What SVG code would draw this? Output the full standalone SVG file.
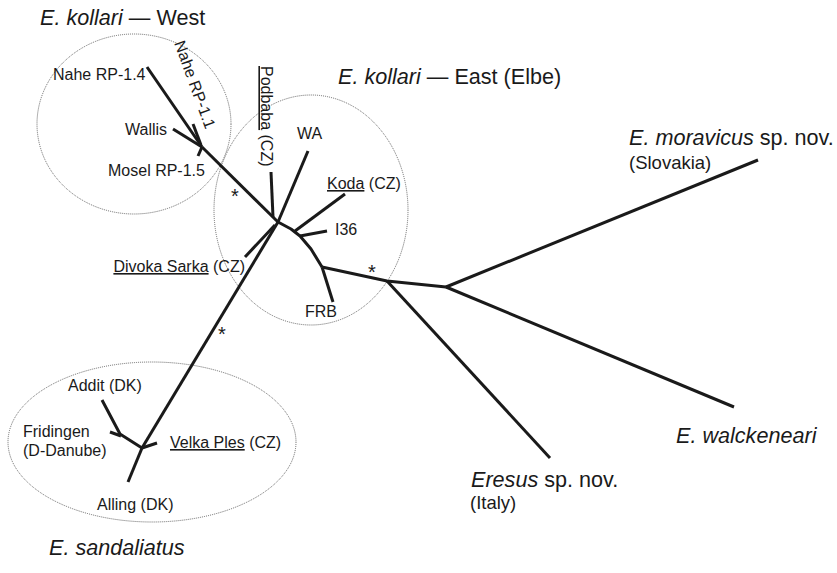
<svg xmlns="http://www.w3.org/2000/svg" width="837" height="573" viewBox="0 0 837 573">
<style>
text{font-family:"Liberation Sans",Arial,sans-serif;fill:#1a1a1a}
.lb{font-size:16px}
.sub{font-size:18.5px}
.tt{font-size:21.6px}
.it{font-style:italic}
.u{text-decoration:underline}
.ast{font-size:20px;text-anchor:middle}
.br{fill:none;stroke:#1a1a1a;stroke-width:3;stroke-linecap:butt;stroke-linejoin:round}
.cl{fill:none;stroke:#666;stroke-width:1;stroke-dasharray:1 1}
</style>
<rect width="837" height="573" fill="#fff"/>
<g id="clusters">
<ellipse class="cl" cx="134" cy="124" rx="97" ry="90"/>
<ellipse class="cl" cx="311" cy="210" rx="97" ry="115"/>
<ellipse class="cl" cx="152" cy="442" rx="144" ry="80"/>
</g>
<g id="connectors">
<path class="br" d="M147,67 L202,147"/>
<path class="br" d="M193,124 L201,145"/>
<path class="br" d="M173,129 L202,147"/>
<path class="br" d="M202,147 L198,156"/>
<path class="br" d="M202,147 L278,222"/>
<path class="br" d="M271,172 L273,217"/>
<path class="br" d="M308,151 L278,222"/>
<path class="br" d="M245,257 L275,225"/>
<path class="br" d="M278,222 L142,448"/>
<path class="br" d="M102,400 L120,434 L142,448"/>
<path class="br" d="M110,432 L121,436"/>
<path class="br" d="M157,443 L142,448"/>
<path class="br" d="M142,448 L128,482"/>
<path class="br" d="M278,222 L291,229 L300,236 L311,249 L322,267"/>
<path class="br" d="M345,194 L295,231"/>
<path class="br" d="M327,231 L300,236"/>
<path class="br" d="M322,267 L333,302"/>
<path class="br" d="M322,267 L387,281 L446,287"/>
<path class="br" d="M387,281 L550,458"/>
<path class="br" d="M446,287 L758,160"/>
<path class="br" d="M446,287 L734,407"/>
</g>
<g id="title-west"><text class="tt" x="40" y="25"><tspan class="it">E. kollari</tspan> — West</text></g>
<g id="title-east"><text class="tt" x="338" y="84"><tspan class="it">E. kollari</tspan> — East (Elbe)</text></g>
<g id="title-sandaliatus"><text class="tt it" x="49" y="555">E. sandaliatus</text></g>
<g id="node-nahe14"><text class="lb" x="53" y="80">Nahe RP-1.4</text></g>
<g id="node-nahe11"><text class="lb" transform="translate(174,43) rotate(70)">Nahe RP-1.1</text></g>
<g id="node-wallis"><text class="lb" x="125" y="135">Wallis</text></g>
<g id="node-mosel"><text class="lb" x="108" y="176">Mosel RP-1.5</text></g>
<g id="node-podbaba"><text class="lb" transform="translate(261,66) rotate(90)"><tspan class="u">Podbaba</tspan> (CZ)</text></g>
<g id="node-wa"><text class="lb" x="297" y="139">WA</text></g>
<g id="node-koda"><text class="lb" x="327" y="189"><tspan class="u">Koda</tspan> (CZ)</text></g>
<g id="node-i36"><text class="lb" x="335" y="235">I36</text></g>
<g id="node-frb"><text class="lb" x="305" y="317">FRB</text></g>
<g id="node-divoka"><text class="lb" x="245" y="272" text-anchor="end"><tspan class="u">Divoka Sarka</tspan> (CZ)</text></g>
<g id="node-addit"><text class="lb" x="68" y="391">Addit (DK)</text></g>
<g id="node-fridingen"><text class="lb" x="23" y="437">Fridingen</text><text class="lb" x="23" y="456">(D-Danube)</text></g>
<g id="node-velka"><text class="lb" x="170" y="448"><tspan class="u">Velka Ples</tspan> (CZ)</text></g>
<g id="node-alling"><text class="lb" x="97" y="510">Alling (DK)</text></g>
<g id="node-moravicus"><text class="tt" x="629" y="145"><tspan class="it">E. moravicus</tspan> sp. nov.</text><text class="sub" x="629" y="169">(Slovakia)</text></g>
<g id="node-walckeneari"><text class="tt it" x="676" y="443">E. walckeneari</text></g>
<g id="node-eresus"><text class="tt" x="471" y="487"><tspan class="it">Eresus</tspan> sp. nov.</text><text class="sub" x="470" y="509">(Italy)</text></g>
<g id="support">
<text class="ast" x="235" y="203">*</text>
<text class="ast" x="222" y="341">*</text>
<text class="ast" x="372" y="279">*</text>
</g>
</svg>
